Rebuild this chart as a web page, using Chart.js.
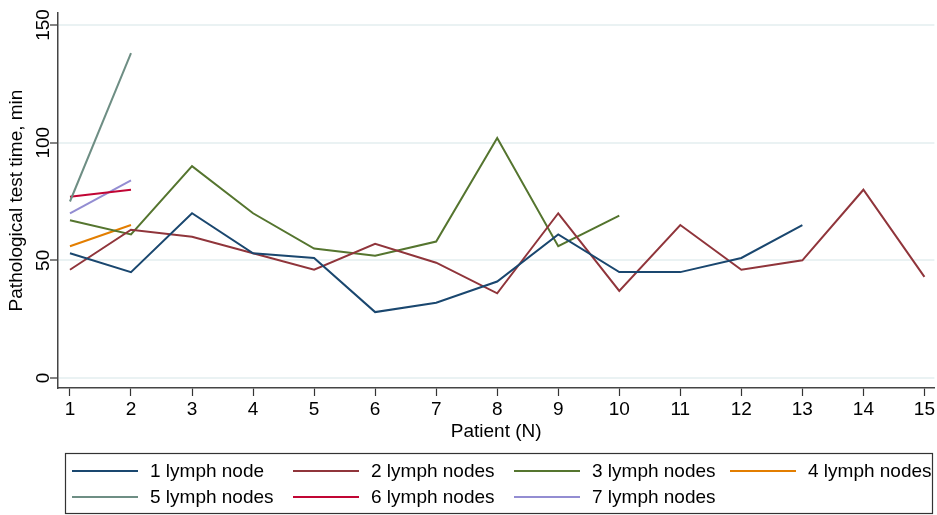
<!DOCTYPE html>
<html>
<head>
<meta charset="utf-8">
<script src="https://cdn.jsdelivr.net/npm/chart.js@4.4.1/dist/chart.umd.min.js"></script>
<style>
  html, body { margin: 0; padding: 0; background: #fff; }
  #wrap { width: 937px; height: 515px; position: relative; }
</style>
</head>
<body>
<div id="wrap"><canvas id="grafico"></canvas></div>
<script>
// patients on the x axis
var pacientes = [1, 2, 3, 4, 5, 6, 7, 8, 9, 10, 11, 12, 13, 14, 15];
var ticksY = [0, 50, 100, 150];

var nomes = ['1 lymph node', '2 lymph nodes', '3 lymph nodes', '4 lymph nodes',
             '5 lymph nodes', '6 lymph nodes', '7 lymph nodes'];
var cores = ['#1a476f', '#90353b', '#55752f', '#e37e00', '#6e8e84', '#c10534', '#938dd2'];

// test time (min) per patient, one list per group
var linfonodo1 = [53, 45, 70, 53, 51, 28, 32, 41, 61, 45, 45, 51, 65];
var linfonodo2 = [46, 63, 60, 53, 46, 57, 49, 36, 70, 37, 65, 46, 50, 80, 43];
var linfonodo3 = [67, 61, 90, 70, 55, 52, 58, 102, 56, 69];
var linfonodo4 = [56, 65];
var linfonodo5 = [75, 138];
var linfonodo6 = [77, 80];
var linfonodo7 = [70, 84];

var series = [linfonodo1, linfonodo2, linfonodo3, linfonodo4, linfonodo5, linfonodo6, linfonodo7];

var fonte = '"Liberation Sans", Arial, sans-serif';

function pontos(valores) {
	return valores.map(function(v, i) {
		return { x: pacientes[i], y: v };
	});
}

var datasets = series.map(function(valores, i) {
	return {
		label: nomes[i],
		data: pontos(valores),
		borderColor: cores[i],
		backgroundColor: cores[i],
		borderWidth: 2,
		pointRadius: 0,
		tension: 0,
		fill: false
	};
});

// Stata style legend: boxed, 4 columns
var legendaCaixa = {
	id: 'legendaCaixa',
	afterDraw: function(chart) {
		var ctx = chart.ctx;
		var x0 = 65, y0 = 453, w = 867, h = 60;
		var colunas = [7, 228, 449, 665];
		var linhas = [18, 44];
		ctx.save();
		ctx.strokeStyle = '#333';
		ctx.lineWidth = 1.2;
		ctx.strokeRect(x0 + 0.5, y0 + 0.5, w, h);
		ctx.font = '19px ' + fonte;
		ctx.textBaseline = 'middle';
		ctx.fillStyle = '#000';
		chart.data.datasets.forEach(function(ds, i) {
			var cx = x0 + colunas[i % 4];
			var cy = y0 + linhas[Math.floor(i / 4)];
			ctx.strokeStyle = ds.borderColor;
			ctx.lineWidth = 2;
			ctx.beginPath();
			ctx.moveTo(cx, cy);
			ctx.lineTo(cx + 66, cy);
			ctx.stroke();
			ctx.fillText(ds.label, cx + 78, cy + 1);
		});
		ctx.restore();
	}
};

var grafico = new Chart(document.getElementById('grafico').getContext('2d'), {
	type: 'line',
	data: { datasets: datasets },
	plugins: [legendaCaixa],
	options: {
		responsive: true,
		maintainAspectRatio: false,
		animation: false,
		layout: { padding: { top: 13, right: 0, bottom: 70, left: 0 } },
		plugins: {
			legend: { display: false },
			tooltip: { enabled: false }
		},
		scales: {
			x: {
				type: 'linear',
				min: 0.804,
				max: 15.163,
				afterBuildTicks: function(scale) {
					scale.ticks = pacientes.map(function(v) { return { value: v }; });
				},
				afterFit: function(scale) { scale.height = 57; },
				grid: {
					drawOnChartArea: false,
					drawTicks: true,
					tickLength: 8,
					tickColor: '#333',
					tickWidth: 1.2
				},
				border: { color: '#444', width: 1.5 },
				ticks: {
					color: '#000',
					font: { family: fonte, size: 19 },
					padding: 2,
					maxRotation: 0,
					autoSkip: false
				},
				title: {
					display: true,
					text: 'Patient (N)',
					color: '#000',
					font: { family: fonte, size: 19 },
					padding: { top: 0, bottom: 2 }
				}
			},
			y: {
				min: -4.25,
				max: 155.1,
				afterBuildTicks: function(scale) {
					scale.ticks = ticksY.map(function(v) { return { value: v }; });
				},
				afterFit: function(scale) { scale.width = 58; },
				grid: {
					color: '#eaf2f3',
					lineWidth: 2,
					drawTicks: true,
					tickLength: 8,
					tickColor: '#333',
					tickWidth: 1.2
				},
				border: { color: '#444', width: 1.5 },
				ticks: {
					color: '#000',
					font: { family: fonte, size: 19 },
					minRotation: 90,
					maxRotation: 90,
					crossAlign: 'center',
					padding: -10
				},
				title: {
					display: true,
					text: 'Pathological test time, min',
					color: '#000',
					font: { family: fonte, size: 19 },
					padding: { top: 5, bottom: 0 }
				}
			}
		}
	}
});
</script>
</body>
</html>
